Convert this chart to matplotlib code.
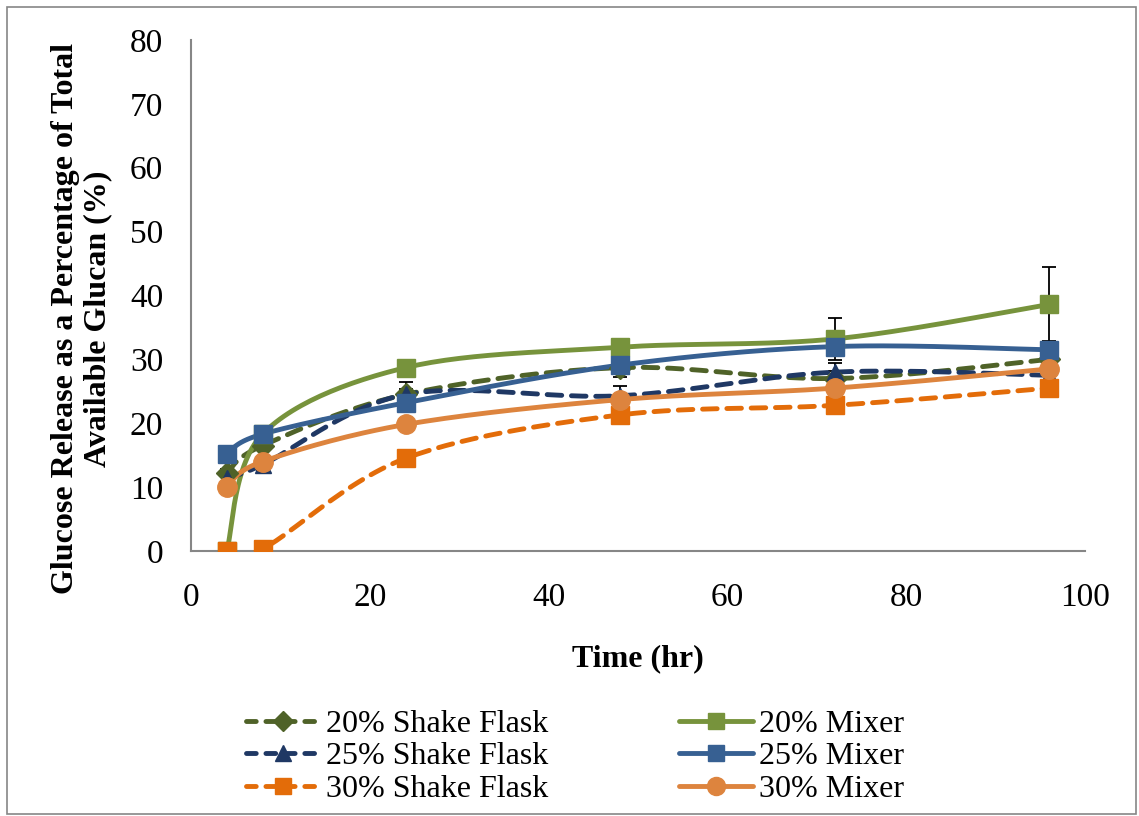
import numpy as np
import matplotlib
matplotlib.use("Agg")
import matplotlib.pyplot as plt
from matplotlib.patches import Rectangle

plt.rcParams['font.family'] = ['Liberation Serif', 'DejaVu Serif']

# --- data ---
time_hr = [4, 8, 24, 48, 72, 96]

shake20 = [12.2, 16.5, 24.5, 28.7, 27.0, 30.0]
shake25 = [11.5, 13.5, 24.5, 24.3, 28.0, 27.5]
shake30 = [0.0, 0.3, 14.5, 21.3, 22.8, 25.5]
mixer20 = [0.0, 18.3, 28.7, 31.9, 33.2, 38.6]
mixer25 = [15.2, 18.3, 23.2, 29.1, 32.0, 31.5]
mixer30 = [10.0, 14.0, 19.8, 23.7, 25.5, 28.5]

err_shake20 = [0.6, 0.5, 0.8, 1.5, 1.2, 1.0]
err_shake25 = [1.0, 1.0, 2.0, 1.5, 1.5, 1.0]
err_shake30 = [0.3, 0.3, 0.6, 0.6, 0.6, 0.6]
err_mixer20 = [0.0, 0.5, 0.5, 0.5, 3.3, 5.8]
err_mixer25 = [0.5, 0.5, 0.5, 0.5, 0.6, 0.8]
err_mixer30 = [0.4, 0.4, 0.4, 0.4, 0.4, 0.4]


def smooth(x, y, n=30):
    # Catmull-Rom style curve through the points (like Excel's smoothed line)
    x = np.asarray(x, float)
    y = np.asarray(y, float)
    px = np.concatenate([[x[0]], x, [x[-1]]])
    py = np.concatenate([[y[0]], y, [y[-1]]])
    xs, ys = [], []
    for i in range(1, len(px) - 2):
        t = np.linspace(0, 1, n)
        mx0 = (px[i + 1] - px[i - 1]) / 2
        mx1 = (px[i + 2] - px[i]) / 2
        my0 = (py[i + 1] - py[i - 1]) / 2
        my1 = (py[i + 2] - py[i]) / 2
        h00 = 2 * t**3 - 3 * t**2 + 1
        h10 = t**3 - 2 * t**2 + t
        h01 = -2 * t**3 + 3 * t**2
        h11 = t**3 - t**2
        xs.append(h00 * px[i] + h10 * mx0 + h01 * px[i + 1] + h11 * mx1)
        ys.append(h00 * py[i] + h10 * my0 + h01 * py[i + 1] + h11 * my1)
    return np.concatenate(xs), np.concatenate(ys)


fig = plt.figure(figsize=(11.39, 8.16), dpi=100)
ax = fig.add_axes([0.1677, 0.3248, 0.7849, 0.6262])

series = [
    (shake20, err_shake20, '#4F6228', 'D', '--', '20% Shake Flask', 11),
    (mixer20, err_mixer20, '#77933C', 's', '-', '20% Mixer', 13),
    (shake25, err_shake25, '#1F3864', '^', '--', '25% Shake Flask', 12),
    (mixer25, err_mixer25, '#376092', 's', '-', '25% Mixer', 13),
    (shake30, err_shake30, '#E36C09', 's', '--', '30% Shake Flask', 13),
    (mixer30, err_mixer30, '#DD843E', 'o', '-', '30% Mixer', 14),
]

handles = []
for vals, errs, color, mk, ls, label, ms in series:
    ax.errorbar(time_hr, vals, yerr=errs, fmt='none', ecolor='black',
                elinewidth=1.3, capsize=5, capthick=1.3, zorder=2)
    sx, sy = smooth(time_hr, vals)
    line, = ax.plot(sx, sy, color=color, lw=3.5, ls=ls,
                    solid_capstyle='round', dash_capstyle='round', zorder=3)
    if ls == '--':
        line.set_dashes((3, 2))
    ax.plot(time_hr, vals, ls='none', marker=mk, ms=ms, color=color, zorder=4)
    h, = ax.plot([], [], color=color, lw=3.5, ls=ls, marker=mk, ms=ms - 1,
                 dash_capstyle='round', solid_capstyle='round', label=label)
    if ls == '--':
        h.set_dashes((2, 2))
    handles.append(h)

ax.set_xlim(0, 100)
ax.set_ylim(0, 80)
ax.set_xticks(range(0, 101, 20))
ax.set_yticks(range(0, 81, 10))
ax.tick_params(length=0, labelsize=24)
ax.tick_params(axis='x', pad=23)
ax.tick_params(axis='y', pad=20)
for s in ['top', 'right']:
    ax.spines[s].set_visible(False)
for s in ['left', 'bottom']:
    ax.spines[s].set_color('#868686')
    ax.spines[s].set_linewidth(1.5)

ax.set_xlabel('Time (hr)', fontsize=23, fontweight='bold', labelpad=22)
ax.set_ylabel('Glucose Release as a Percentage of Total\nAvailable Glucan (%)',
              fontsize=23, fontweight='bold', linespacing=1.15)
ax.yaxis.set_label_coords(-0.088, 0.455)

order = [0, 2, 4, 1, 3, 5]
fig.legend([handles[i] for i in order], [handles[i].get_label() for i in order],
           loc='upper center', bbox_to_anchor=(0.505, 0.154), ncol=2, frameon=False,
           fontsize=23, handlelength=2.3, columnspacing=4.1, labelspacing=0.1,
           handletextpad=0.2, borderpad=0.1)

fig.patches.append(Rectangle((0.006, 0.002), 0.991, 0.99, transform=fig.transFigure,
                             fill=False, edgecolor='#868686', lw=1.2))

fig.savefig('out.png', dpi=100)
